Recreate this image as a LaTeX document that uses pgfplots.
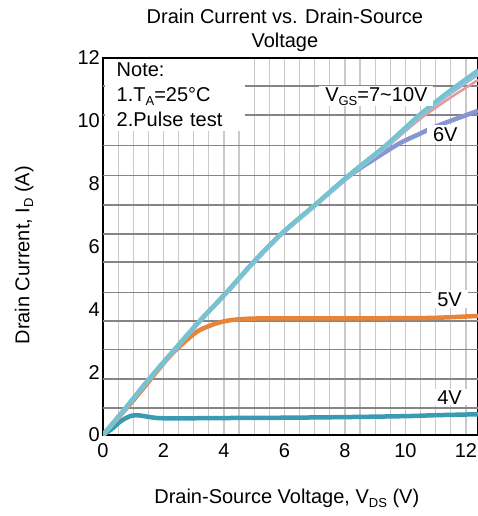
\documentclass[border=0pt]{standalone}
\usepackage{pgfplots}
\pgfplotsset{compat=1.18}
\usepackage{fontspec}
\setmainfont{Liberation Sans}
\definecolor{cFour}{HTML}{3A9AB2}
\definecolor{cFive}{HTML}{E8843A}
\definecolor{cSix}{HTML}{8796D2}
\definecolor{cSeven}{HTML}{E29A9A}
\definecolor{cEight}{HTML}{9FB8D6}
\definecolor{cNine}{HTML}{8CC1DA}
\definecolor{cTen}{HTML}{74C4D0}
\newcommand{\sub}[1]{\raisebox{-0.35ex}{\fontsize{13}{13}\selectfont #1}}
\begin{document}
\begin{tikzpicture}
\begin{axis}[
  at={(103pt,81pt)}, anchor=south west,
  scale only axis, width=375pt, height=377pt,
  xmin=0, xmax=12.4, ymin=0, ymax=12,
  xtick={0,2,...,12}, ytick={0,2,...,12},
  minor xtick={0.5,1,...,12},
  xminorgrids,
  minor grid style={gray!42, line width=1.2pt},
  extra y ticks={0.86,1.79,2.72,3.63,4.54,5.5,6.4,7.33,8.26,9.22,10.18,11.1},
  extra y tick labels={},
  extra y tick style={grid=major, major grid style={black!48, line width=1.6pt}},
  major tick length=0pt, minor tick length=0pt,
  tick label style={font=\fontsize{20}{20}\selectfont},
  xticklabel style={yshift=-5pt},
  yticklabel style={inner xsep=3pt},
  /pgf/number format/assume math mode=true,
  axis line style={line width=1.3pt, black},
  title={Drain Current vs. Drain-Source\\Voltage},
  title style={align=center, font=\fontsize{20}{24.5}\selectfont, at={(axis description cs:0.485,1.058)}, anchor=center},
  xlabel={Drain-Source Voltage, V\sub{DS} (V)},
  xlabel style={font=\fontsize{20}{20}\selectfont, at={(axis description cs:0.49,-0.168)}, anchor=center},
  ylabel={Drain Current, I\sub{D} (A)},
  ylabel style={font=\fontsize{20}{20}\selectfont, at={(axis description cs:-0.21,0.477)}, anchor=center},
]
% 4V
\addplot[cFour, line width=4.5pt, smooth] coordinates {
(0,0) (0.3,0.2) (0.6,0.45) (0.9,0.6) (1.1,0.63) (1.3,0.61) (1.8,0.54) (2.5,0.53) (4,0.54) (6,0.55) (8,0.57) (10,0.6) (11,0.63) (12.4,0.66)};
% 5V
\addplot[cFive, line width=4.5pt, smooth] coordinates {
(0,0) (1,1.1) (2,2.28) (2.4,2.7) (2.8,3.05) (3.18,3.33) (3.74,3.55) (4.27,3.66) (5.17,3.71) (8,3.71) (10,3.72) (11,3.73) (12.4,3.79)};
% 6V
\addplot[cSix, line width=4.5pt, smooth] coordinates {
(0,0) (0.7,0.8) (1.5,1.75) (2.35,2.7) (3.2,3.63) (4.1,4.55) (4.93,5.45) (5.9,6.4) (7.05,7.35) (8.15,8.25) (9.0,8.8) (9.8,9.28) (10.46,9.58) (11.0,9.82) (12.4,10.32)};
% 7V
\addplot[cSeven, line width=2.5pt, smooth] coordinates {
(0,0) (0.7,0.8) (1.5,1.75) (2.35,2.7) (3.2,3.63) (4.1,4.55) (4.93,5.45) (5.9,6.4) (7.05,7.35) (8.15,8.26) (9.37,9.16) (10.46,10.04) (11.4,10.68) (12.4,11.3)};
% 8V
\addplot[cEight, line width=4.5pt, smooth] coordinates {
(0,0) (0.7,0.8) (1.5,1.75) (2.35,2.7) (3.2,3.63) (4.1,4.55) (4.93,5.45) (5.9,6.4) (7.05,7.35) (8.15,8.27) (9.37,9.2) (10.46,10.14) (11.4,10.84) (12.4,11.5)};
% 9V
\addplot[cNine, line width=4.5pt, smooth] coordinates {
(0,0) (0.7,0.8) (1.5,1.75) (2.35,2.7) (3.2,3.63) (4.1,4.55) (4.93,5.45) (5.9,6.4) (7.05,7.35) (8.15,8.28) (9.37,9.22) (10.46,10.17) (11.4,10.88) (12.4,11.56)};
% 10V
\addplot[cTen, line width=3.5pt, smooth] coordinates {
(0,0) (0.7,0.8) (1.5,1.75) (2.35,2.7) (3.2,3.63) (4.1,4.56) (4.93,5.47) (5.9,6.42) (7.05,7.37) (8.15,8.3) (9.37,9.25) (10.46,10.2) (11.4,10.92) (12.4,11.62)};
% annotations
\node[fill=white, anchor=north west, align=left, font=\fontsize{20}{25}\selectfont, inner xsep=12pt, inner ysep=4pt, text width=116pt] at (axis cs:0.05,11.97) {Note:\\1.T\sub{A}=25°C\\2.Pulse test};
\node[fill=white, font=\fontsize{20}{20}\selectfont, inner xsep=6pt, inner ysep=1pt] at (axis cs:9.04,10.78) {V\sub{GS}=7\textasciitilde10V};
\node[fill=white, font=\fontsize{20}{20}\selectfont, inner xsep=6pt, inner ysep=2pt] at (axis cs:11.32,9.57) {6V};
\node[fill=white, font=\fontsize{20}{20}\selectfont, inner xsep=6pt, inner ysep=2pt] at (axis cs:11.46,4.32) {5V};
\node[fill=white, font=\fontsize{20}{20}\selectfont, inner xsep=6pt, inner ysep=1pt] at (axis cs:11.46,1.2) {4V};
\end{axis}
\pgfresetboundingbox
\path (0,0) rectangle (478pt,516pt);
\end{tikzpicture}
\end{document}
